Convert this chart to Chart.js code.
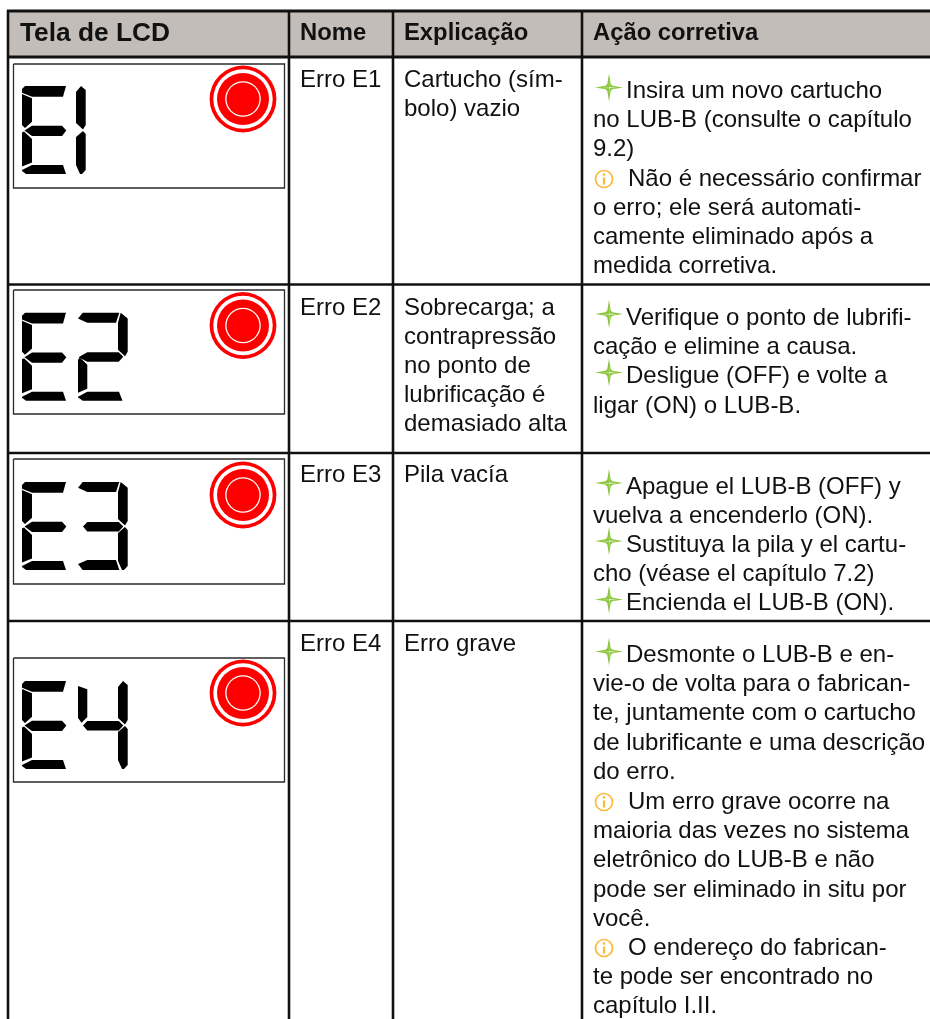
<!DOCTYPE html>
<html>
<head>
<meta charset="utf-8">
<title>Tela de LCD</title>
<script src="https://cdn.jsdelivr.net/npm/chart.js@4/dist/chart.umd.js"></script>
<style>
html, body { margin: 0; padding: 0; background: #fff; }
canvas { display: block; }
</style>
</head>
<body>
<canvas id="tableChart" width="930" height="1019"></canvas>
<script>
// table content
const headers = ['Tela de LCD', 'Nome', 'Explicação', 'Ação corretiva'];
const lcdCodes = ['E1', 'E2', 'E3', 'E4'];
const names = ['Erro E1', 'Erro E2', 'Erro E3', 'Erro E4'];
const explanations = [
    ['Cartucho (sím-', 'bolo) vazio'],
    ['Sobrecarga; a', 'contrapressão', 'no ponto de', 'lubrificação é', 'demasiado alta'],
    ['Pila vacía'],
    ['Erro grave']
];
// first char of each action line: * = star bullet, i = info bullet, space = plain
const actions = [
    ['*Insira um novo cartucho', ' no LUB-B (consulte o capítulo', ' 9.2)', 'iNão é necessário confirmar', ' o erro; ele será automati-', ' camente eliminado após a', ' medida corretiva.'],
    ['*Verifique o ponto de lubrifi-', ' cação e elimine a causa.', '*Desligue (OFF) e volte a', ' ligar (ON) o LUB-B.'],
    ['*Apague el LUB-B (OFF) y', ' vuelva a encenderlo (ON).', '*Sustituya la pila y el cartu-', ' cho (véase el capítulo 7.2)', '*Encienda el LUB-B (ON).'],
    ['*Desmonte o LUB-B e en-', ' vie-o de volta para o fabrican-', ' te, juntamente com o cartucho', ' de lubrificante e uma descrição', ' do erro.', 'iUm erro grave ocorre na', ' maioria das vezes no sistema', ' eletrônico do LUB-B e não', ' pode ser eliminado in situ por', ' você.', 'iO endereço do fabrican-', ' te pode ser encontrado no', ' capítulo I.II.']
];

// table geometry, in scale units
const columnEdges = [8, 289, 393, 582];
const rowEdges = [11, 57, 284.5, 453, 621];
const frameTops = [64, 290, 459, 658];
const frameBottoms = [188, 414, 584, 782];
const lampCentersY = [99, 325.5, 495, 693];
const lcdTopsY = [86, 312.7, 482, 681];
const nameBaselines = [87, 315, 482, 651];
const actionBaselines = [
    [98, 127, 156, 186, 215, 244, 273],
    [324.5, 353.5, 383, 412.5],
    [493.5, 522.5, 551.5, 581, 610],
    [662, 691, 720, 750, 779, 809, 838, 867, 897, 926, 955, 984, 1013]
];
const lineStep = 29;

// seven segment glyph outlines, relative to the digit's top left corner
const leftSegs = {
    a: [[3, 0], [44, 0], [41, 10.7], [10, 10.7], [0, 6.7], [0, 3]],
    f: [[0, 8], [10, 12.3], [10, 35.7], [3, 42], [0, 39]],
    g: [[2.5, 44.5], [10, 39.7], [40, 39.7], [44.3, 44.5], [40, 50], [10, 50]],
    e: [[0, 46.5], [2, 45.5], [10, 53], [10, 76.5], [0, 80.5]],
    d: [[0, 84], [10, 79], [41, 79], [44, 88], [4, 88], [0, 85]]
};
const rightSegs = {
    a: [[4.7, 0], [41.3, 0], [38, 10], [9.3, 10], [0, 5.7]],
    b: [[42.7, 0], [49.7, 5.7], [49.7, 39], [47, 43.5], [40, 37], [40, 10]],
    bTop: [[45, 0], [49.7, 4], [49.7, 39], [47, 43.5], [40, 37], [40, 6]],
    c: [[40, 51], [47, 45], [49.7, 48], [49.7, 84], [46, 88], [44, 88], [40, 79]],
    d: [[0, 82], [9.3, 78], [38, 78], [41.3, 88], [4.7, 88]],
    dLong: [[0, 84], [9.3, 79], [41, 79], [44.5, 88], [4.7, 88], [0.6, 85]],
    e: [[2, 44.7], [9.3, 52], [9.3, 76], [0, 80], [0, 47]],
    f: [[0, 5], [9.3, 8.3], [9.3, 36], [3.6, 41.7], [0, 37]],
    g: [[5, 44.5], [9.3, 40], [40.7, 40], [45.3, 44.5], [40.7, 49.5], [9.3, 49.5]],
    gWide: [[0.5, 44.5], [9.3, 39.5], [40.7, 39.5], [45.3, 44], [40.7, 49], [9.3, 49]]
};
const digitParts = {
    E: ['a', 'f', 'g', 'e', 'd'],
    1: ['bTop', 'c'],
    2: ['a', 'b', 'gWide', 'e', 'dLong'],
    3: ['a', 'b', 'g', 'c', 'd'],
    4: ['f', 'bTop', 'g', 'c']
};

const starOuter = [[0, -14], [1.7, -3.6], [3.6, -1.7], [14, 0], [3.6, 1.7], [1.7, 3.6], [0, 14], [-1.7, 3.6], [-3.6, 1.7], [-14, 0], [-3.6, -1.7], [-1.7, -3.6]];
const starInner = [[0.4, -8], [0.8, -0.8], [8, 0.4], [0.8, 0.8], [0.4, 8], [0, 0.8], [-8, 0.4], [0, 0]];

const datasets = [];

function addLine(points, color, width) {
    datasets.push({ showLine: true, data: points.map(p => ({ x: p[0], y: p[1] })), borderColor: color, borderWidth: width, pointRadius: 0, fill: false });
}
function addShape(points, color) {
    const closed = points.concat([points[0]]);
    datasets.push({ showLine: true, data: closed.map(p => ({ x: p[0], y: p[1] })), borderColor: color, borderWidth: 0, backgroundColor: color, pointRadius: 0, fill: 'shape' });
}
function addDot(x, y, radius, fillColor, strokeColor, strokeWidth) {
    datasets.push({ showLine: false, data: [{ x: x, y: y }], pointRadius: radius, pointBackgroundColor: fillColor, pointBorderColor: strokeColor || fillColor, pointBorderWidth: strokeWidth || 0 });
}
function moved(points, dx, dy) {
    return points.map(p => [p[0] + dx, p[1] + dy]);
}

// header band
addShape([[8, 11], [930, 11], [930, 57], [8, 57]], '#c3bdba');

// grid
rowEdges.forEach(y => addLine([[7, y], [930, y]], '#111', y === 11 || y === 57 ? 3 : 2.4));
columnEdges.forEach(x => addLine([[x, 10], [x, 1019]], '#111', 2.6));

// LCD screens
lcdCodes.forEach((code, r) => {
    addLine([[13.5, frameTops[r]], [284.5, frameTops[r]], [284.5, frameBottoms[r]], [13.5, frameBottoms[r]], [13.5, frameTops[r]]], '#2b2b2b', 1.3);

    digitParts.E.forEach(s => addShape(moved(leftSegs[s], 22, lcdTopsY[r]), '#000'));
    const digit = code[1];
    const digitX = digit === '1' ? 36 : 78;
    digitParts[digit].forEach(s => addShape(moved(rightSegs[s], digitX, lcdTopsY[r]), '#000'));

    addDot(243, lampCentersY[r], 33.4, '#ff0000');
    addDot(243, lampCentersY[r], 29.7, '#ffffff');
    addDot(243, lampCentersY[r], 26, '#ff0000');
    addDot(243, lampCentersY[r], 17.8, '#ffffff');
    addDot(243, lampCentersY[r], 16.5, '#ff0000');
});

// bullets
actions.forEach((lines, r) => {
    lines.forEach((line, i) => {
        const y = actionBaselines[r][i];
        if (line[0] === '*') {
            addShape(moved(starOuter, 609, y - 10.5), '#8cc63f');
            addShape(moved(starInner, 609, y - 10.5), '#dcebc8');
        } else if (line[0] === 'i') {
            addDot(604, y - 7, 8.5, 'rgba(0,0,0,0)', '#fbb936', 1.7);
            addDot(604, y - 11.5, 1.3, '#fbb936');
            addLine([[604, y - 8.5], [604, y - 1.5]], '#fbb936', 2.2);
        }
    });
});

// earlier datasets must paint first
datasets.forEach((d, i) => { d.order = datasets.length - i; });

const tableText = {
    id: 'tableText',
    afterDatasetsDraw(chart) {
        const ctx = chart.ctx;
        const xs = chart.scales.x;
        const ys = chart.scales.y;
        const put = (str, x, y) => ctx.fillText(str, xs.getPixelForValue(x), ys.getPixelForValue(y));
        ctx.save();
        ctx.fillStyle = '#111';
        ctx.textBaseline = 'alphabetic';
        ctx.textAlign = 'left';

        ctx.font = 'bold 26.3px "Liberation Sans"';
        put(headers[0], 20, 40.5);
        ctx.font = 'bold 23.8px "Liberation Sans"';
        put(headers[1], 300, 40);
        put(headers[2], 404, 40);
        put(headers[3], 593, 40);

        ctx.font = '24px "Liberation Sans"';
        names.forEach((n, r) => put(n, 300, nameBaselines[r]));
        explanations.forEach((lines, r) => {
            lines.forEach((line, i) => put(line, 404, nameBaselines[r] + i * lineStep));
        });
        actions.forEach((lines, r) => {
            lines.forEach((line, i) => {
                const x = line[0] === '*' ? 626 : line[0] === 'i' ? 628 : 593;
                put(line.slice(1), x, actionBaselines[r][i]);
            });
        });
        ctx.restore();
    }
};

new Chart(document.getElementById('tableChart').getContext('2d'), {
    type: 'scatter',
    data: { datasets: datasets },
    plugins: [tableText],
    options: {
        responsive: false,
        animation: false,
        events: [],
        layout: { padding: 0, autoPadding: false },
        plugins: { legend: { display: false }, tooltip: { enabled: false } },
        scales: {
            x: { type: 'linear', display: false, min: 0, max: 930 },
            y: { type: 'linear', display: false, min: 0, max: 1019, reverse: true }
        }
    }
});
</script>
</body>
</html>
